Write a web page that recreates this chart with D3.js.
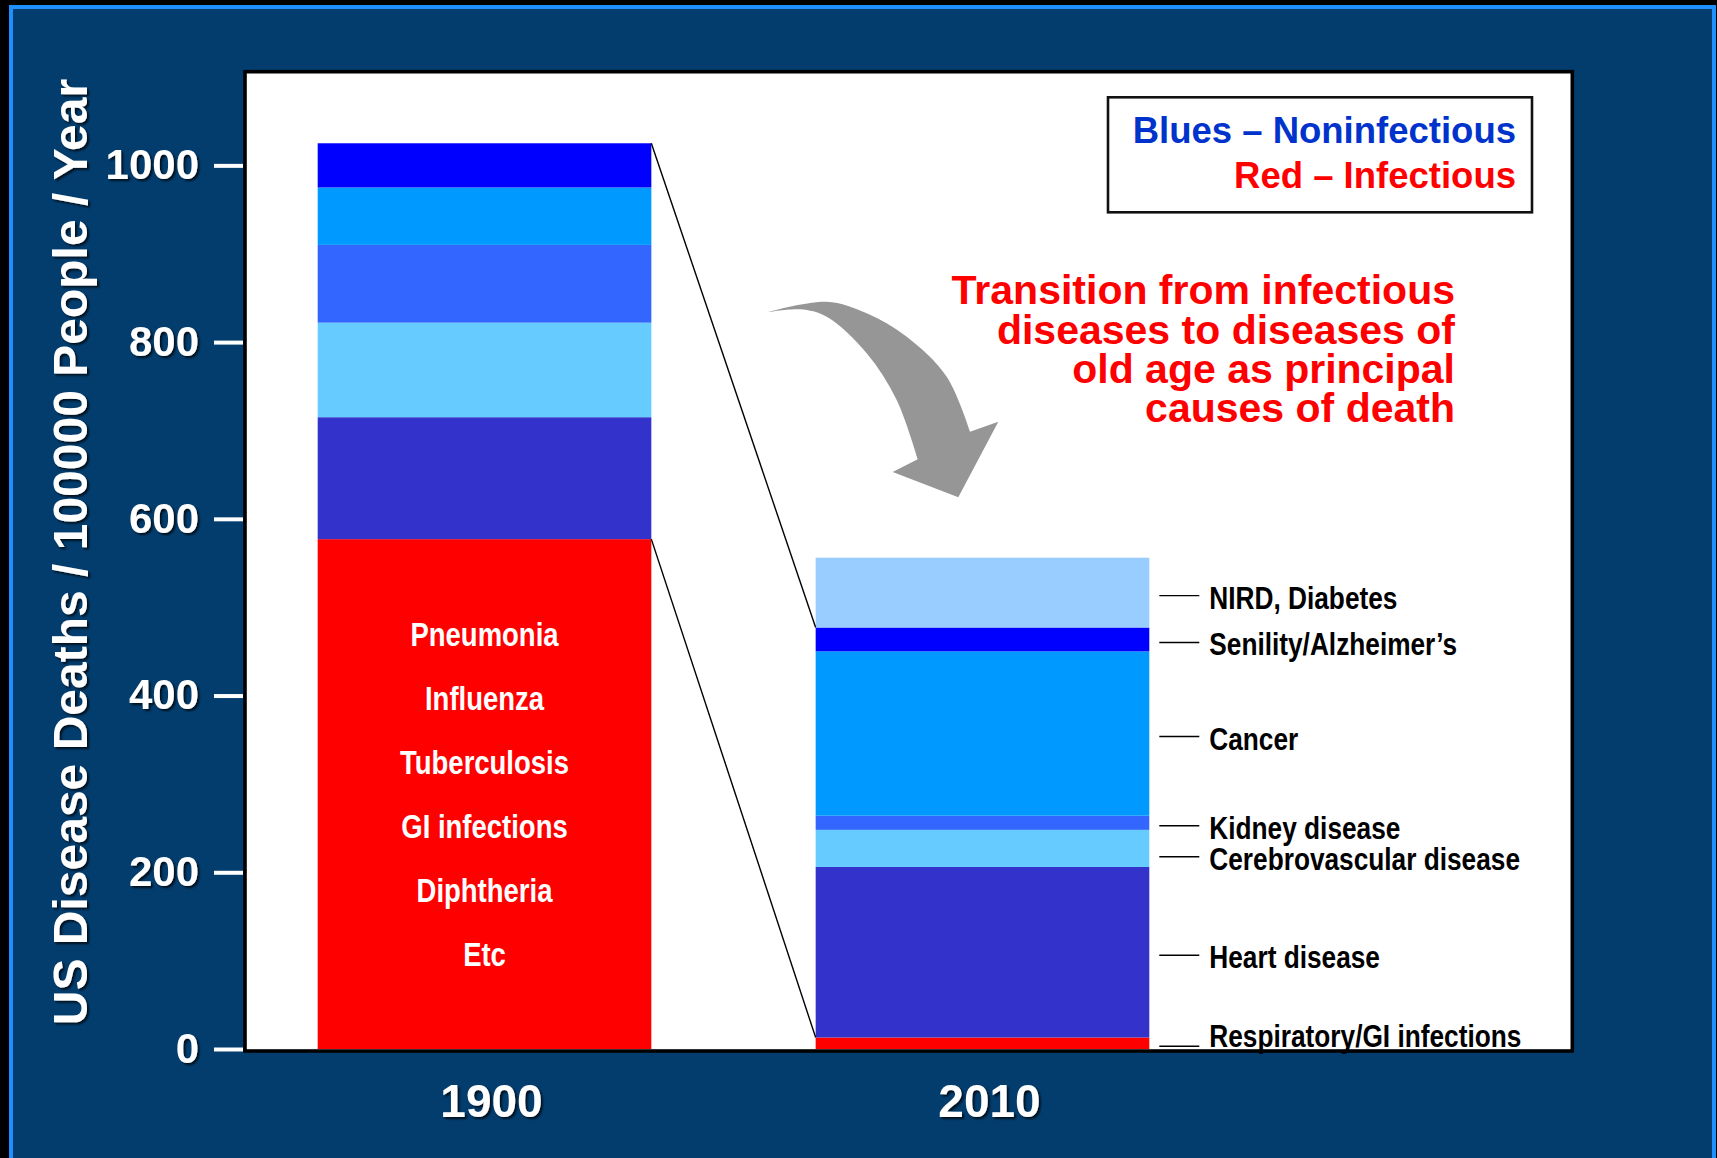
<!DOCTYPE html>
<html>
<head>
<meta charset="utf-8">
<script src="https://cdn.jsdelivr.net/npm/d3@7/dist/d3.min.js"></script>
<style>
  html, body { margin: 0; padding: 0; background: #000; }
  svg { display: block; }
</style>
</head>
<body>
<svg id="chart" width="1717" height="1158"></svg>
<script>
// data
const years = ['1900', '2010'];
const causes = ['Respiratory/GI infections', 'Heart disease', 'Cerebrovascular disease',
  'Kidney disease', 'Cancer', 'Senility/Alzheimer\u2019s', 'NIRD, Diabetes'];
const causeColors = ['#ff0000', '#3333cc', '#66ccff', '#3366ff', '#0099ff', '#0000ff', '#99ccff'];
const deaths1900 = [577, 138, 107, 88, 65, 50, 0];
const deaths2010 = [13, 193, 42, 16, 186, 27, 79];
const infectious1900 = ['Pneumonia', 'Influenza', 'Tuberculosis', 'GI infections', 'Diphtheria', 'Etc'];
const yTicks = [0, 200, 400, 600, 800, 1000];
const legendLines = ['Blues \u2013 Noninfectious', 'Red \u2013 Infectious'];
const legendColors = ['#0033cc', '#ff0000'];
const noteLines = ['Transition from infectious', 'diseases to diseases of', 'old age as principal', 'causes of death'];

const boldFont = "'Liberation Sans', Arial, sans-serif";
const narrowFont = "'Liberation Sans Narrow', 'Arial Narrow', 'Liberation Sans', sans-serif";

const plot = { left: 245, top: 71.7, right: 1572.3, bottom: 1051 };

const svg = d3.select('#chart');

// drop shadow for white text on navy
const defs = svg.append('defs');
defs.append('filter').attr('id', 'shadow')
  .attr('x', '-10%').attr('y', '-10%').attr('width', '120%').attr('height', '130%')
  .append('feDropShadow')
  .attr('dx', 2).attr('dy', 2).attr('stdDeviation', 1.2)
  .attr('flood-color', '#000').attr('flood-opacity', 0.75);

// slide background + frame
svg.append('rect')
  .attr('x', 11).attr('y', 7).attr('width', 1703).attr('height', 1200)
  .attr('fill', '#023d6e')
  .attr('stroke', '#1f8fff').attr('stroke-width', 4);

// plot area
svg.append('rect')
  .attr('x', plot.left).attr('y', plot.top)
  .attr('width', plot.right - plot.left).attr('height', plot.bottom - plot.top)
  .attr('fill', '#fff').attr('stroke', '#000').attr('stroke-width', 3.6);

const x = d3.scaleBand().domain(years).range([243, 1224]).paddingInner(0.33).paddingOuter(0.15);
const y = d3.scaleLinear().domain([0, 1106]).range([1049, plot.top]);
const bw = x.bandwidth();

const rows = years.map((yr, i) => {
  const vals = [deaths1900, deaths2010][i];
  const r = { year: yr };
  causes.forEach((c, j) => r[c] = vals[j]);
  return r;
});
const series = d3.stack().keys(causes)(rows);

// stacked bars
svg.append('g')
  .selectAll('g')
  .data(series)
  .enter()
  .append('g')
  .attr('fill', (s, i) => causeColors[i])
  .selectAll('rect')
  .data(s => s.filter(d => d[1] > d[0]))
  .enter()
  .append('rect')
  .attr('x', d => x(d.data.year))
  .attr('y', d => y(d[1]))
  .attr('width', bw)
  .attr('height', d => y(d[0]) - y(d[1]));

// connector lines between the bars
const lastIdx = d3.max(deaths1900.map((v, i) => v > 0 ? i : -1));
const connectors = [
  [series[lastIdx][0][1], series[lastIdx][1][1]],
  [series[0][0][1], series[0][1][1]]
];
svg.append('g')
  .selectAll('line')
  .data(connectors)
  .enter()
  .append('line')
  .attr('x1', x('1900') + bw).attr('y1', d => y(d[0]))
  .attr('x2', x('2010')).attr('y2', d => y(d[1]))
  .attr('stroke', '#000').attr('stroke-width', 1.4);

// infectious causes listed in the 1900 red block
const redMid = (y(series[0][0][0]) + y(series[0][0][1])) / 2;
svg.append('g')
  .selectAll('text')
  .data(infectious1900)
  .enter()
  .append('text')
  .classed('narrow', true)
  .attr('x', x('1900') + bw / 2)
  .attr('y', (d, i) => redMid + (i - (infectious1900.length - 1) / 2) * 64)
  .attr('dy', '0.35em')
  .attr('text-anchor', 'middle')
  .style('font-family', narrowFont).style('font-weight', 'bold').style('font-size', '33.5px')
  .attr('fill', '#fff')
  .text(d => d);

// 2010 labels with leader lines
const lab = series.map((s, i) => ({ name: causes[i], ly: y((s[1][0] + s[1][1]) / 2) + 3 }))
  .sort((a, b) => a.ly - b.ly);
for (let i = 1; i < lab.length; i++) {
  if (lab[i].ly - lab[i - 1].ly < 31) lab[i].ly = lab[i - 1].ly + 31;
}
const lx = x('2010') + bw;
const labG = svg.append('g')
  .selectAll('g')
  .data(lab)
  .enter()
  .append('g');
labG.append('line')
  .attr('x1', lx + 10).attr('x2', lx + 50)
  .attr('y1', d => d.ly).attr('y2', d => d.ly)
  .attr('stroke', '#000').attr('stroke-width', 1.4);
labG.append('text')
  .classed('narrow', true)
  .attr('x', lx + 60)
  .attr('y', d => Math.min(d.ly + 13, plot.bottom - 4))
  .style('font-family', narrowFont).style('font-weight', 'bold').style('font-size', '32px')
  .attr('fill', '#000')
  .text(d => d.name);

// y axis
const yAxis = svg.append('g')
  .attr('transform', 'translate(243,0)')
  .call(d3.axisLeft(y).tickValues(yTicks).tickFormat(d3.format('d')).tickSize(29).tickPadding(15));
yAxis.select('.domain').remove();
yAxis.selectAll('line').attr('stroke', '#fff').attr('stroke-width', 4);
yAxis.selectAll('text')
  .attr('fill', '#fff')
  .attr('filter', 'url(#shadow)')
  .style('font-family', boldFont).style('font-weight', 'bold').style('font-size', '42px');

// x axis labels
const xAxis = svg.append('g')
  .attr('transform', 'translate(7,1049)')
  .call(d3.axisBottom(x).tickSize(0).tickPadding(35));
xAxis.select('.domain').remove();
xAxis.selectAll('text')
  .attr('fill', '#fff')
  .attr('filter', 'url(#shadow)')
  .style('font-family', boldFont).style('font-weight', 'bold').style('font-size', '46px');

// y axis title
svg.append('g')
  .attr('filter', 'url(#shadow)')
  .append('text')
  .attr('transform', 'translate(86.7,552) rotate(-90)')
  .attr('text-anchor', 'middle')
  .style('font-family', boldFont).style('font-weight', 'bold').style('font-size', '48px')
  .attr('fill', '#fff')
  .text('US Disease Deaths / 100000 People / Year');

// legend box
svg.append('rect')
  .attr('x', 1108).attr('y', 97.3).attr('width', 424).attr('height', 115)
  .attr('fill', '#fff').attr('stroke', '#111').attr('stroke-width', 2.6);
svg.append('g')
  .selectAll('text')
  .data(legendLines)
  .enter()
  .append('text')
  .attr('x', 1516)
  .attr('y', (d, i) => 143.3 + i * 45)
  .attr('text-anchor', 'end')
  .style('font-family', boldFont).style('font-weight', 'bold').style('font-size', '36.5px')
  .attr('fill', (d, i) => legendColors[i])
  .text(d => d);

// annotation, one text block
svg.append('text')
  .attr('text-anchor', 'end')
  .style('font-family', boldFont).style('font-weight', 'bold').style('font-size', '41px')
  .attr('fill', '#ff0000')
  .selectAll('tspan')
  .data(noteLines)
  .enter()
  .append('tspan')
  .attr('x', 1455)
  .attr('y', (d, i) => 304.3 + i * 39.3)
  .text(d => d);

// curved grey arrow
const outer = [[766.7, 312.3], [826.7, 301.7], [866.7, 313.3], [906.7, 336.7], [946.7, 376.7], [970, 431.7]];
const head = [[998.3, 421.7], [958.3, 497.3], [892.7, 472]];
const inner = [[917.7, 459.3], [896.7, 400], [866.7, 353.3], [826.7, 316.7], [800, 309.3], [766.7, 312.3]];
const curve = d3.line().curve(d3.curveCatmullRom.alpha(0.5));
const arrowPath = curve(outer) + head.map(p => 'L' + p).join('') + curve(inner).replace('M', 'L') + 'Z';
svg.append('path')
  .attr('d', arrowPath)
  .attr('fill', '#969696');

// fallback if no narrow face is installed: squeeze the regular bold
const probe = svg.append('text').style('font-weight', 'bold').style('font-size', '32px').text('Cerebrovascular disease');
probe.style('font-family', narrowFont);
const nLen = probe.node().getComputedTextLength();
probe.style('font-family', boldFont);
const bLen = probe.node().getComputedTextLength();
probe.remove();
if (nLen / bLen > 0.92) {
  svg.selectAll('text.narrow').each(function() {
    const t = d3.select(this).style('font-family', boldFont);
    const len = this.getComputedTextLength();
    t.attr('textLength', len * 0.82).attr('lengthAdjust', 'spacingAndGlyphs');
  });
}
</script>
</body>
</html>
